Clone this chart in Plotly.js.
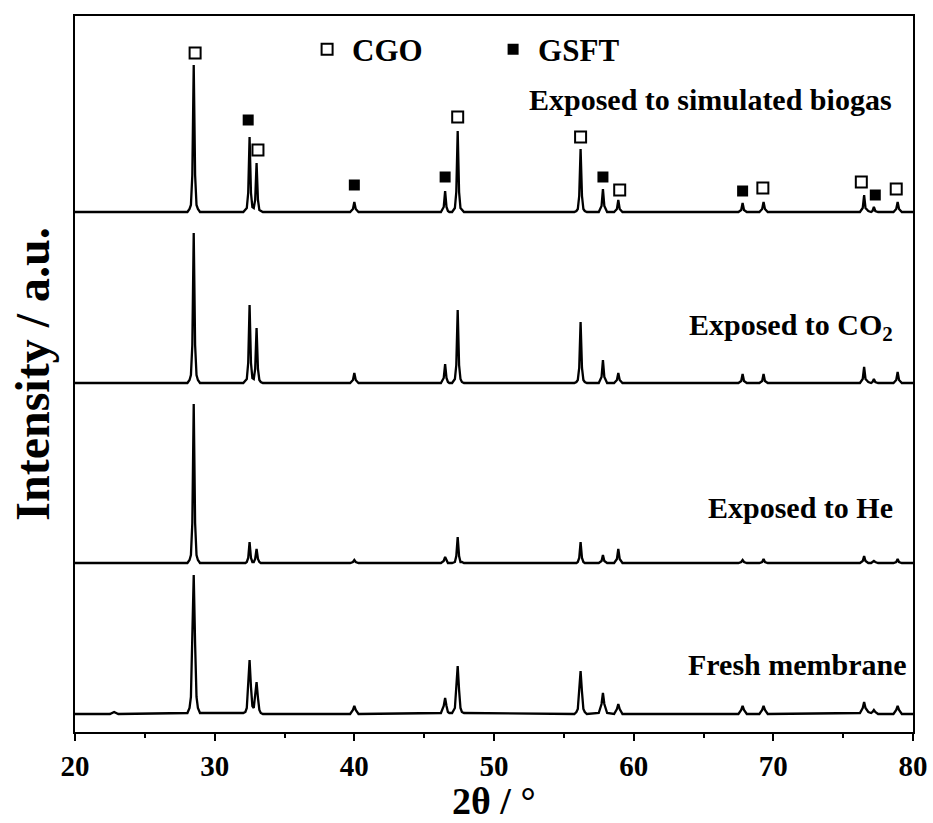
<!DOCTYPE html>
<html>
<head>
<meta charset="utf-8">
<script src="https://cdn.plot.ly/plotly-3.0.1.min.js"></script>
<style>html,body{margin:0;padding:0;background:#fff;}#chart{width:933px;height:823px;}</style>
</head>
<body>
<div id="chart"></div>
<script>
// 2-theta sampling points (degrees)
const twoTheta = [
  20.0, 22.5, 22.8, 23.1,
  28.05, 28.2, 28.3, 28.4, 28.5, 28.6, 28.7, 28.8, 28.95,
  32.05, 32.2, 32.3, 32.4, 32.5, 32.6, 32.7, 32.8, 32.9, 33.0, 33.1, 33.2, 33.3, 33.45,
  39.7, 39.9, 40.0, 40.1, 40.3,
  46.2, 46.4, 46.5, 46.6, 46.7, 46.8, 47.0, 47.2, 47.3, 47.4, 47.5, 47.6, 47.7, 47.85,
  55.75, 55.9, 56.0, 56.1, 56.2, 56.3, 56.4, 56.5, 56.65,
  57.5, 57.7, 57.8, 57.9, 58.1,
  58.6, 58.8, 58.9, 59.0, 59.2,
  67.5, 67.7, 67.8, 67.9, 68.1,
  69.0, 69.2, 69.3, 69.4, 69.6,
  76.2, 76.4, 76.5, 76.6, 76.8, 77.0, 77.1, 77.2, 77.3, 77.5,
  78.6, 78.8, 78.9, 79.0, 79.2, 80.0
];
// intensities (a.u.) above each pattern's own baseline
const biogas = [
  0, 0, 0, 0,
  0, 3, 7, 37, 147, 37, 7, 3, 0,
  0, 2, 4, 19, 75, 19, 5, 4, 12, 49, 12, 2, 1, 0,
  0, 3, 10, 3, 0,
  0, 5, 21, 5, 1, 0, 0, 4, 20, 81, 20, 4, 2, 0,
  0, 1, 3, 16, 63, 16, 3, 1, 0,
  0, 6, 23, 6, 0,
  0, 3, 12, 3, 0,
  0, 2, 9, 2, 0,
  0, 3, 10, 3, 0,
  0, 4, 17, 4, 1, 0, 1, 5, 1, 0,
  0, 3, 10, 3, 0, 0
];
const co2 = [
  0, 0, 0, 0,
  0, 3, 8, 38, 150, 38, 8, 3, 0,
  0, 2, 4, 20, 78, 20, 5, 4, 14, 55, 14, 3, 1, 0,
  0, 3, 10, 3, 0,
  0, 5, 19, 5, 1, 0, 0, 4, 18, 73, 18, 4, 1, 0,
  0, 1, 3, 15, 61, 15, 3, 1, 0,
  0, 6, 23, 6, 0,
  0, 3, 10, 3, 0,
  0, 2, 9, 2, 0,
  0, 2, 9, 2, 0,
  0, 4, 16, 4, 1, 0, 1, 4, 1, 0,
  0, 3, 11, 3, 0, 0
];
const helium = [
  0, 0, 0, 0,
  0, 3, 8, 40, 159, 40, 8, 3, 0,
  0, 0, 1, 5, 21, 5, 1, 1, 4, 14, 4, 1, 0, 0,
  0, 1, 3, 1, 0,
  0, 2, 6, 2, 0, 0, 0, 1, 7, 26, 7, 1, 1, 0,
  0, 0, 1, 5, 21, 5, 1, 0, 0,
  0, 2, 8, 2, 0,
  0, 4, 14, 4, 0,
  0, 1, 3, 1, 0,
  0, 1, 4, 1, 0,
  0, 2, 7, 2, 0, 0, 1, 2, 1, 0,
  0, 1, 4, 1, 0, 0
];
const fresh = [
  0, 0, 2, 0,
  1, 6, 17, 70, 139, 70, 17, 6, 1,
  1, 2, 6, 27, 54, 27, 8, 6, 17, 32, 16, 4, 1, 0,
  0, 4, 8, 4, 0,
  1, 8, 16, 8, 2, 1, 1, 6, 24, 48, 24, 6, 2, 1,
  0, 2, 5, 22, 43, 22, 5, 2, 0,
  1, 10, 21, 10, 1,
  0, 5, 10, 5, 0,
  0, 4, 8, 4, 0,
  0, 4, 8, 4, 0,
  1, 6, 12, 6, 2, 1, 2, 4, 2, 0,
  0, 4, 8, 4, 0, 0
];
// vertical offsets of the stacked patterns (a.u.)
const offsetBiogas = 520, offsetCO2 = 349, offsetHe = 169, offsetFresh = 18;
// phase markers (on the biogas pattern)
const cgoX = [28.6, 33.1, 47.4, 56.2, 59.0, 69.25, 76.3, 78.8];
const cgoY = [679, 582, 615, 595, 542, 544, 550, 543];
const gsftX = [32.4, 40.0, 46.5, 57.8, 67.8, 77.3];
const gsftY = [612, 547, 555, 555, 541, 537];
const labels = ["Exposed to simulated biogas", "Exposed to CO<sub>2</sub>", "Exposed to He", "Fresh membrane"];
const xTitle = "2θ / °";
const yTitle = "Intensity / a.u.";

const FONT = "Liberation Serif, 'Times New Roman', Times, serif";
function shifted(arr, off) { return arr.map(v => v + off); }
function pattern(arr, off) {
  return {x: twoTheta, y: shifted(arr, off), type: 'scatter', mode: 'lines',
    line: {color: '#000', width: 2.3}, showlegend: false, hoverinfo: 'skip'};
}
const traces = [
  pattern(fresh, offsetFresh),
  pattern(helium, offsetHe),
  pattern(co2, offsetCO2),
  pattern(biogas, offsetBiogas),
  {x: cgoX, y: cgoY, type: 'scatter', mode: 'markers', name: 'CGO',
   marker: {symbol: 'square-open', size: 11, color: '#000', line: {width: 2, color: '#000'}}},
  {x: gsftX, y: gsftY, type: 'scatter', mode: 'markers', name: 'GSFT',
   marker: {symbol: 'square', size: 11, color: '#000'}}
];
const annY = [0.883, 0.566, 0.313, 0.094];
const annX = [0.977, 0.9785, 0.9785, 0.9952];
const annotations = labels.map((t, i) => ({text: t, xref: 'paper', yref: 'paper', x: annX[i], y: annY[i],
    xanchor: 'right', yanchor: 'middle', showarrow: false,
    font: {size: 30, family: FONT, weight: 'bold', color: '#000'}}));
annotations.push({text: xTitle, xref: 'paper', yref: 'paper', x: 0.5, y: -0.096,
    xanchor: 'center', yanchor: 'middle', showarrow: false, borderpad: 0,
    font: {size: 38, family: FONT, weight: 'bold', color: '#000'}});
const layout = {
  width: 933, height: 823,
  margin: {l: 75, r: 20, t: 16, b: 91},
  paper_bgcolor: '#fff', plot_bgcolor: '#fff',
  font: {family: FONT, color: '#000'},
  showlegend: true,
  legend: {orientation: 'h', x: 0.271, xanchor: 'left', y: 0.953, yanchor: 'middle',
    font: {size: 31, family: FONT, weight: 'bold'}, bgcolor: 'rgba(0,0,0,0)', itemwidth: 40,
    entrywidth: 131, entrywidthmode: 'pixels'},
  xaxis: {range: [20, 80], tick0: 20, dtick: 10, ticks: 'outside', ticklen: 7, tickwidth: 2,
    tickcolor: '#000', showline: true, linewidth: 2, linecolor: '#000', mirror: true,
    showgrid: false, zeroline: false,
    tickfont: {size: 29, family: FONT, weight: 'bold'},
    minor: {tick0: 20, dtick: 5, ticks: 'outside', ticklen: 4, tickwidth: 2, tickcolor: '#000', showgrid: false}},
  yaxis: {range: [0, 716], showticklabels: false, ticks: '', showline: true, linewidth: 2,
    linecolor: '#000', mirror: true, showgrid: false, zeroline: false,
    title: {text: yTitle, font: {size: 48, family: FONT, weight: 'bold'}, standoff: 8}},
  annotations: annotations
};
Plotly.newPlot('chart', traces, layout, {displayModeBar: false, staticPlot: true});
</script>
</body>
</html>
